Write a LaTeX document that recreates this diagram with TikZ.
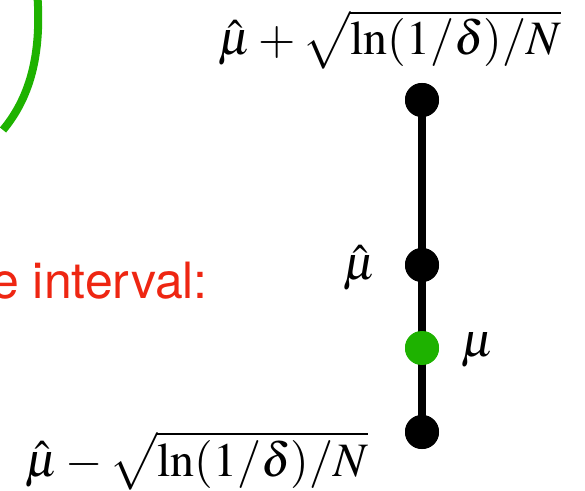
\documentclass[tikz,border=0pt]{standalone}
\usepackage{mathptmx}
\usepackage{fontspec}
\newfontfamily\heros{TeX Gyre Heros}
\definecolor{dotgreen}{RGB}{30,178,0}
\definecolor{txtred}{RGB}{238,38,18}
\tikzset{
  dotblack/.style={circle,fill=black,inner sep=0pt,minimum size=34pt},
  dotgrn/.style={circle,fill=dotgreen,inner sep=0pt,minimum size=34pt},
  lbl/.style={inner sep=0pt,font=\fontsize{48}{58}\selectfont},
}
\begin{document}
\begin{tikzpicture}[x=1pt,y=1pt]
\useasboundingbox (0,0) rectangle (585,490);
\clip (0,0) rectangle (585,490);
% green arc
\draw[dotgreen,line width=8pt] (37,500) .. controls (42,440) and (32,395) .. (3,360);
% vertical line and dots
\node[dotblack] (top) at (422,390) {};
\node[dotblack] (muhat) at (422,225) {};
\node[dotgrn] (mu) at (422,142) {};
\node[dotblack] (bot) at (422,58) {};
\draw[line width=8pt] (top.center) -- (muhat.center) -- (mu.center) -- (bot.center);
\node[dotblack] at (top) {};
\node[dotblack] at (muhat) {};
\node[dotgrn] at (mu) {};
\node[dotblack] at (bot) {};
% labels
\node[lbl,anchor=base] (toplbl) at (390,435) {$\hat\mu+\sqrt{\ln(1/\delta)/N}$};
\node[lbl,anchor=base] (botlbl) at (197,14) {$\hat\mu-\sqrt{\ln(1/\delta)/N}$};
\node[lbl] (muhatlbl) at (360,222) {$\hat\mu$};
\node[lbl] (mulbl) at (478,140) {$\mu$};
\node[anchor=base east,inner sep=0pt,text=txtred,font=\heros\fontsize{50}{60}\selectfont] (red) at (208,192) {e interval:};
\end{tikzpicture}
\end{document}
